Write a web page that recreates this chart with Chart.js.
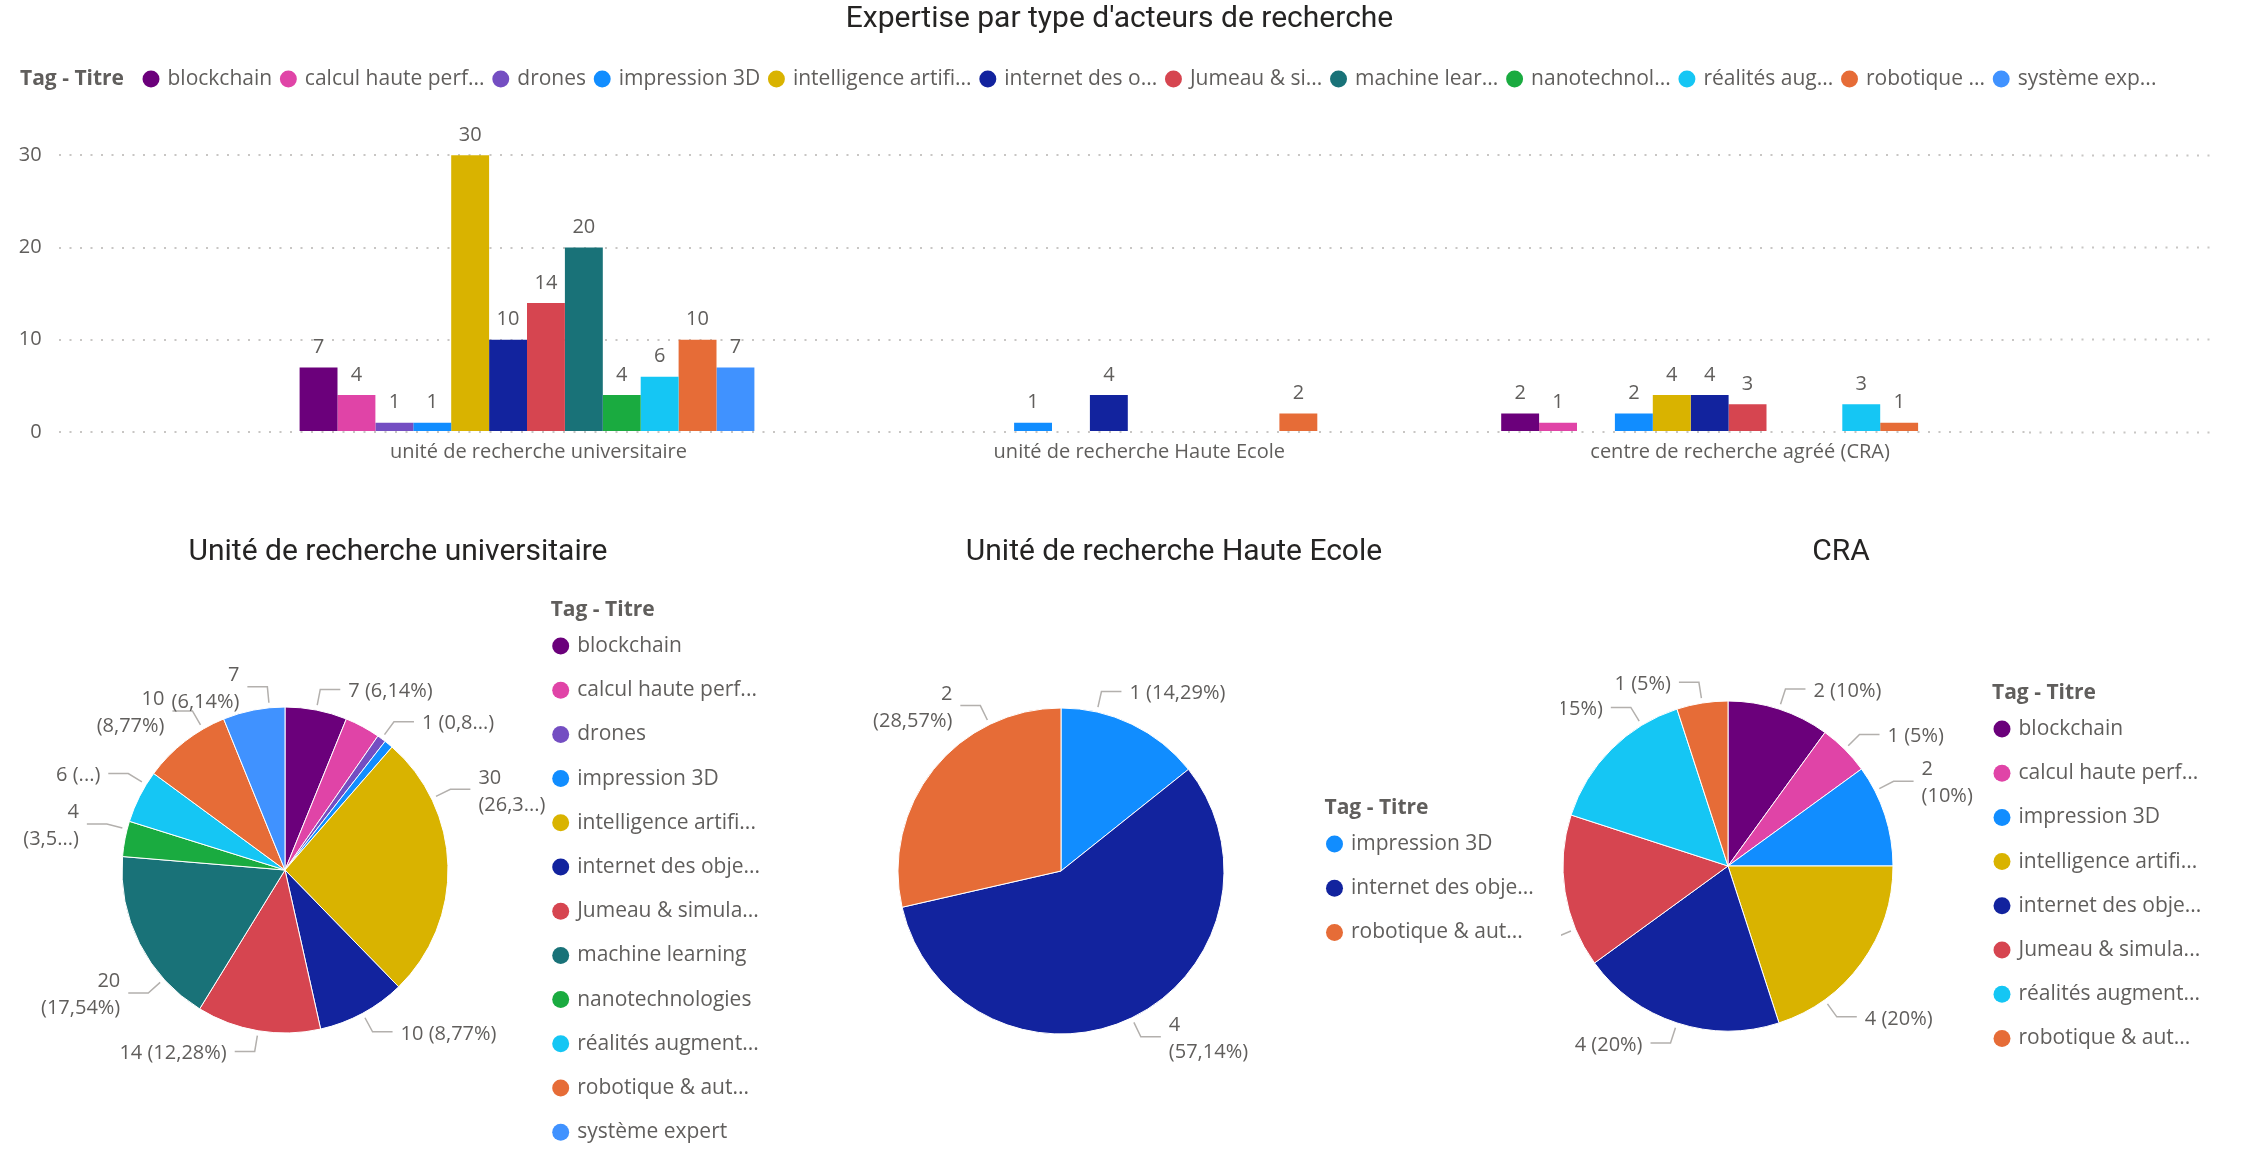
<!DOCTYPE html>
<html>
<head>
<meta charset="utf-8">
<script src="https://cdn.jsdelivr.net/npm/chart.js@4.4.1/dist/chart.umd.min.js"></script>
<style>
html,body{margin:0;padding:0;background:#fff;width:2256px;height:1156px;overflow:hidden;position:relative}
canvas{position:absolute;display:block}
</style>
</head>
<body>
<canvas id="bar" width="2256" height="480" style="left:0px;top:0px"></canvas>
<canvas id="pie1" width="770" height="636" style="left:0px;top:520px"></canvas>
<canvas id="pie3" width="856" height="636" style="left:1400px;top:520px"></canvas>
<canvas id="pie2" width="771" height="636" style="left:790px;top:520px;background:#fff"></canvas>
<script>
// ---------------- DATA ----------------
const chartTitle = "Expertise par type d'acteurs de recherche";
const legendTitle = 'Tag - Titre';
const categories = ['unité de recherche universitaire', 'unité de recherche Haute Ecole', 'centre de recherche agréé (CRA)'];
const seriesNames = ['blockchain', 'calcul haute perf...', 'drones', 'impression 3D', 'intelligence artifi...', 'internet des obje...', 'Jumeau & simula...', 'machine learning', 'nanotechnologies', 'réalités augment...', 'robotique & aut...', 'système expert'];
const barLegendLabels = ['blockchain', 'calcul haute perf...', 'drones', 'impression 3D', 'intelligence artifi...', 'internet des o...', 'Jumeau & si...', 'machine lear...', 'nanotechnol...', 'réalités aug...', 'robotique ...', 'système exp...'];
const blockchain        = [7, null, 2];
const calculHautePerf   = [4, null, 1];
const drones            = [1, null, null];
const impression3D      = [1, 1, 2];
const intelligenceArtif = [30, null, 4];
const internetObjets    = [10, 4, 4];
const jumeauSimulation  = [14, null, 3];
const machineLearning   = [20, null, null];
const nanotechnologies  = [4, null, null];
const realitesAugment   = [6, null, 3];
const robotiqueAuto     = [10, 2, 1];
const systemeExpert     = [7, null, null];
const seriesValues = [blockchain, calculHautePerf, drones, impression3D, intelligenceArtif, internetObjets, jumeauSimulation, machineLearning, nanotechnologies, realitesAugment, robotiqueAuto, systemeExpert];
const seriesColors = ['#6B007B', '#E044A7', '#744EC2', '#118DFF', '#D9B300', '#12239E', '#D64550', '#197278', '#1AAB40', '#15C6F4', '#E66C37', '#4092FF'];
const yTickValues = [0, 10, 20, 30];
const yAxisMax = 36;
const pieTitles = ['Unité de recherche universitaire', 'Unité de recherche Haute Ecole', 'CRA'];
const pieLabelTexts = [
  [['7 (6,14%)'], null, ['1 (0,8...)'], null, ['30', '(26,3...)'], ['10 (8,77%)'], ['14 (12,28%)'], ['20', '(17,54%)'], ['4', '(3,5...)'], ['6 (...)'], ['10', '(8,77%)'], ['7', '(6,14%)']],
  [['1 (14,29%)'], ['4', '(57,14%)'], ['2', '(28,57%)']],
  [['2 (10%)'], ['1 (5%)'], ['2', '(10%)'], ['4 (20%)'], ['4 (20%)'], ['3 (15%)'], ['3 (15%)'], ['1 (5%)']]
];

// ---------------- STYLE / LAYOUT ----------------
const FONT = '"Open Sans", "Noto Sans", sans-serif';
const TFONT = 'Roboto, "Noto Sans", sans-serif';
const TXT = '#605E5C';
const GRID = '#C8C6C4';
const PIE_TOP = 520;
const pieLayouts = [
  {id: 'pie1', left: 0,    width: 770, padL: 38.5, padR: 12.5, padB: 6,  radius: 163, legendX: 554.7, legendY: 635.5, angles: {4: 64, 7: 228, 8: 284.5, 9: 301.6, 10: 329.8, 11: 354.5}},
  {id: 'pie2', left: 790,  width: 771, padL: 26.7, padR: 29.7, padB: 4,  radius: 163, legendX: 1328.5, legendY: 833.5, angles: {0: 12.7, 2: 334}},
  {id: 'pie3', left: 1400, width: 856, padL: 83.2, padR: 57.2, padB: 14, radius: 165, legendX: 1996, legendY: 718.5, angles: {2: 62.9, 3: 144.2, 5: 247.5, 6: 328.5}}
];

// ---------------- PLUGIN ----------------
const pbi = {
  id: 'pbi',
  afterLayout(chart, args, o) {
    const lg = chart.legend;
    if (!lg || !o.legendAt) return;
    const p = lg.options.labels.padding;
    lg.left = o.legendAt.x - p;
    lg.top = o.legendAt.y - p;
    lg.right = lg.left + 5000;
    lg.bottom = lg.top + 5000;
  },
  afterDatasetsDraw(chart, args, o) {
    const ctx = chart.ctx;
    if (o.barLabels) {
      ctx.save();
      ctx.font = '20px ' + FONT;
      ctx.fillStyle = TXT;
      ctx.textAlign = 'center';
      ctx.textBaseline = 'middle';
      chart.data.datasets.forEach((ds, di) => {
        const meta = chart.getDatasetMeta(di);
        meta.data.forEach((bar, i) => {
          const v = ds.data[i];
          if (v === null || v === undefined) return;
          const {x, y} = bar.getProps(['x', 'y'], true);
          ctx.fillText(String(v), x, y - 20);
        });
      });
      ctx.restore();
    }
    if (o.pieLabels) {
      const meta = chart.getDatasetMeta(0);
      ctx.save();
      ctx.font = '20px ' + FONT;
      ctx.fillStyle = TXT;
      ctx.strokeStyle = '#B3B0AD';
      ctx.lineWidth = 1.5;
      ctx.textBaseline = 'middle';
      meta.data.forEach((arc, i) => {
        const lines = o.pieLabels.texts[i];
        if (!lines) return;
        const pr = arc.getProps(['x', 'y', 'startAngle', 'endAngle', 'outerRadius'], true);
        let a = (pr.startAngle + pr.endAngle) / 2;
        const ov = o.pieLabels.angles[i];
        if (ov !== undefined) a = ov * Math.PI / 180 - Math.PI / 2;
        const c = Math.cos(a), s = Math.sin(a);
        const r1 = pr.outerRadius + 5, r2 = pr.outerRadius + 21;
        const kx = pr.x + r2 * c, ky = pr.y + r2 * s;
        const dir = c >= 0 ? 1 : -1;
        const ex = kx + dir * 20;
        ctx.beginPath();
        ctx.moveTo(pr.x + r1 * c, pr.y + r1 * s);
        ctx.lineTo(kx, ky);
        ctx.lineTo(ex, ky);
        ctx.stroke();
        ctx.textAlign = dir > 0 ? 'left' : 'right';
        const tx = ex + dir * 8;
        const cy = ky + 2;
        lines.forEach((t, j) => ctx.fillText(t, tx, cy + (j - (lines.length - 1) / 2) * 27));
      });
      ctx.restore();
    }
  },
  afterDraw(chart, args, o) {
    if (!o.caption) return;
    const ctx = chart.ctx;
    ctx.save();
    ctx.font = 'bold 21px ' + FONT;
    ctx.fillStyle = TXT;
    ctx.textAlign = 'left';
    ctx.textBaseline = 'middle';
    ctx.fillText(o.caption.text, o.caption.x, o.caption.y);
    ctx.restore();
  }
};

function legendItems(texts, colors) {
  return texts.map((t, i) => ({
    text: t, fillStyle: colors[i], strokeStyle: colors[i], lineWidth: 0,
    pointStyle: 'circle', fontColor: TXT, hidden: false, datasetIndex: i, index: i
  }));
}

const legendLabelOpts = (padding, gen) => ({
  usePointStyle: true, pointStyle: 'circle', boxWidth: 12, boxHeight: 12,
  padding: padding, color: TXT, font: {family: FONT, size: 21}, generateLabels: gen
});

// ---------------- BAR CHART ----------------
new Chart(document.getElementById('bar'), {
  type: 'bar',
  data: {
    labels: categories,
    datasets: seriesValues.map((vals, i) => ({
      label: seriesNames[i], data: vals, backgroundColor: seriesColors[i],
      borderWidth: 0, barPercentage: 1, categoryPercentage: 0.757
    }))
  },
  options: {
    responsive: false, animation: false, devicePixelRatio: 1, events: [],
    layout: {padding: {left: 0, right: 17, top: 0, bottom: 7.2}},
    scales: {
      x: {
        grid: {display: false, drawTicks: false}, border: {display: false},
        ticks: {color: TXT, font: {family: FONT, size: 20}, padding: 8.4, labelOffset: 11.5, maxRotation: 0, autoSkip: false}
      },
      y: {
        position: 'left', min: 0, max: yAxisMax,
        afterBuildTicks: s => { s.ticks = yTickValues.map(v => ({value: v})); },
        afterFit: s => { s.width = 226.6; },
        ticks: {color: TXT, font: {family: FONT, size: 20}, padding: 17.3},
        grid: {color: GRID, lineWidth: 2, drawTicks: true, tickLength: 167.6, tickColor: GRID, tickWidth: 2, tickBorderDash: [2, 8.5]},
        border: {display: false, dash: [2, 8.5]}
      },
      y2: {
        position: 'right', min: 0, max: yAxisMax,
        afterBuildTicks: s => { s.ticks = yTickValues.map(v => ({value: v})); },
        afterFit: s => { s.width = 210; },
        ticks: {display: false},
        grid: {drawOnChartArea: false, drawTicks: true, tickLength: 185, tickColor: GRID, tickWidth: 2, tickBorderDash: [2, 8.5]},
        border: {display: false}
      }
    },
    plugins: {
      title: {display: true, text: chartTitle, color: '#252423', font: {family: TFONT, size: 30, weight: 'normal'}, padding: {top: 1, bottom: 21.8}},
      legend: {display: true, position: 'top', align: 'start', labels: legendLabelOpts(10.2, () => legendItems(barLegendLabels, seriesColors))},
      tooltip: {enabled: false},
      pbi: {legendAt: {x: 145, y: 68.5}, caption: {text: legendTitle, x: 20, y: 79}, barLabels: true}
    }
  },
  plugins: [pbi]
});

// ---------------- PIE CHARTS ----------------
pieLayouts.forEach((L, k) => {
  const idx = seriesValues.map((v, i) => i).filter(i => seriesValues[i][k] !== null);
  const labels = idx.map(i => seriesNames[i]);
  const values = idx.map(i => seriesValues[i][k]);
  const colors = idx.map(i => seriesColors[i]);
  new Chart(document.getElementById(L.id), {
    type: 'pie',
    data: {labels: labels, datasets: [{data: values, backgroundColor: colors, borderColor: '#ffffff', borderWidth: 1, radius: L.radius}]},
    options: {
      responsive: false, animation: false, devicePixelRatio: 1, events: [],
      layout: {padding: {left: L.padL, right: L.padR, top: 0, bottom: L.padB}},
      plugins: {
        title: {display: true, text: pieTitles[k], color: '#252423', font: {family: TFONT, size: 30, weight: 'normal'}, padding: {top: 14, bottom: 20}},
        legend: {display: true, position: 'right', fullSize: false, align: 'start', maxWidth: 226,
                 labels: legendLabelOpts(23.2, () => legendItems(labels, colors))},
        tooltip: {enabled: false},
        pbi: {
          legendAt: {x: L.legendX - L.left, y: L.legendY - PIE_TOP},
          caption: {text: legendTitle, x: L.legendX - L.left - 4, y: L.legendY - PIE_TOP - 25},
          pieLabels: {texts: pieLabelTexts[k], angles: L.angles}
        }
      }
    },
    plugins: [pbi]
  });
});
</script>
</body>
</html>
